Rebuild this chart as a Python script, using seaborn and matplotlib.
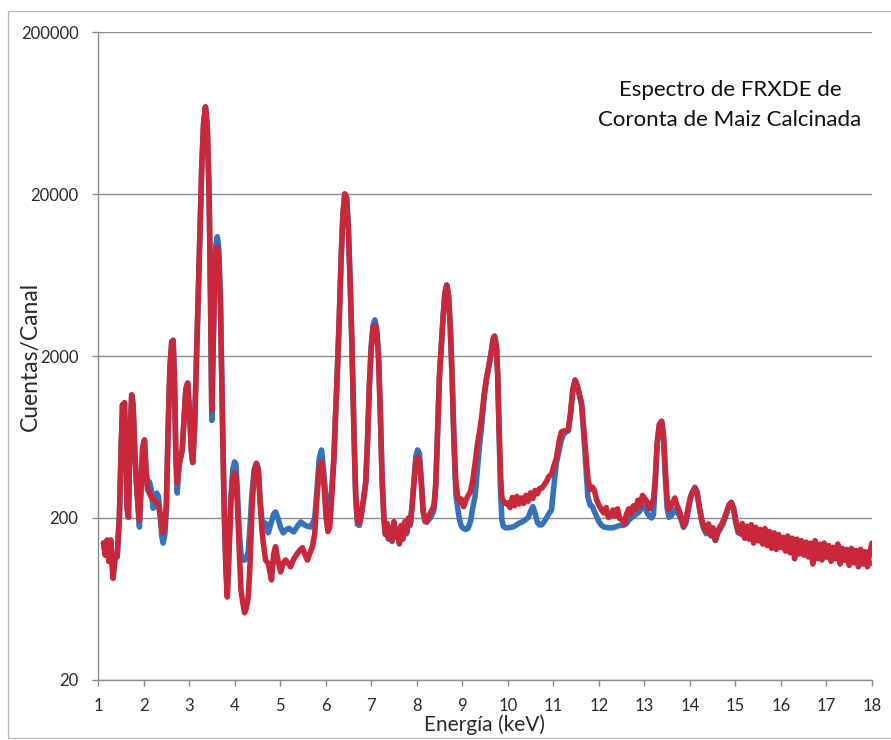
import numpy as np
import pandas as pd
import seaborn as sns
import matplotlib
matplotlib.use("Agg")
import matplotlib.pyplot as plt
from matplotlib.patches import Rectangle
from matplotlib.ticker import NullLocator

# Energy channels (keV) shared by both spectra
energia = [
    1.12, 1.16, 1.20, 1.24, 1.28, 1.33, 1.38, 1.42, 1.47, 1.51,
    1.54, 1.56, 1.58, 1.61, 1.64, 1.67, 1.70, 1.74, 1.77, 1.81,
    1.85, 1.88, 1.91, 1.95, 1.98, 2.02, 2.05, 2.09, 2.13, 2.17,
    2.21, 2.25, 2.29, 2.33, 2.37, 2.40, 2.43, 2.47, 2.50, 2.54,
    2.58, 2.62, 2.65, 2.68, 2.71, 2.74, 2.78, 2.82, 2.85, 2.89,
    2.93, 2.97, 3.01, 3.05, 3.08, 3.12, 3.16, 3.20, 3.24, 3.28,
    3.32, 3.36, 3.40, 3.44, 3.47, 3.50, 3.53, 3.56, 3.59, 3.62,
    3.65, 3.69, 3.73, 3.77, 3.81, 3.84, 3.88, 3.92, 3.96, 4.00,
    4.03, 4.06, 4.10, 4.14, 4.18, 4.22, 4.26, 4.30, 4.34, 4.38,
    4.43, 4.48, 4.52, 4.56, 4.60, 4.63, 4.68, 4.74, 4.81, 4.86,
    4.90, 4.95, 5.01, 5.07, 5.12, 5.19, 5.23, 5.30, 5.38, 5.45,
    5.49, 5.55, 5.60, 5.67, 5.71, 5.76, 5.81, 5.86, 5.91, 5.96,
    6.01, 6.05, 6.09, 6.13, 6.18, 6.22, 6.26, 6.30, 6.34, 6.38,
    6.42, 6.46, 6.50, 6.54, 6.58, 6.62, 6.66, 6.70, 6.74, 6.78,
    6.83, 6.88, 6.92, 6.96, 7.00, 7.04, 7.08, 7.12, 7.16, 7.20,
    7.24, 7.28, 7.31, 7.35, 7.38, 7.42, 7.46, 7.50, 7.54, 7.58,
    7.62, 7.66, 7.70, 7.74, 7.78, 7.82, 7.86, 7.90, 7.94, 7.98,
    8.02, 8.06, 8.10, 8.14, 8.18, 8.22, 8.26, 8.30, 8.34, 8.38,
    8.42, 8.46, 8.50, 8.54, 8.58, 8.62, 8.66, 8.70, 8.74, 8.78,
    8.82, 8.86, 8.90, 8.94, 8.98, 9.03, 9.08, 9.13, 9.18, 9.23,
    9.28, 9.33, 9.38, 9.43, 9.48, 9.53, 9.58, 9.63, 9.68, 9.71,
    9.75, 9.78, 9.81, 9.84, 9.87, 9.90, 9.95, 10.00, 10.05, 10.10,
    10.15, 10.20, 10.25, 10.30, 10.35, 10.40, 10.45, 10.50, 10.55, 10.60,
    10.65, 10.70, 10.75, 10.80, 10.85, 10.90, 10.96, 11.02, 11.07, 11.13,
    11.18, 11.23, 11.28, 11.33, 11.38, 11.43, 11.48, 11.53, 11.58, 11.62,
    11.67, 11.72, 11.76, 11.81, 11.86, 11.90, 11.95, 12.00, 12.06, 12.11,
    12.16, 12.21, 12.26, 12.31, 12.36, 12.41, 12.46, 12.51, 12.56, 12.61,
    12.66, 12.71, 12.76, 12.81, 12.86, 12.91, 12.96, 13.01, 13.06, 13.11,
    13.16, 13.20, 13.24, 13.28, 13.33, 13.38, 13.42, 13.46, 13.50, 13.54,
    13.58, 13.63, 13.67, 13.71, 13.76, 13.81, 13.86, 13.91, 13.96, 14.01,
    14.06, 14.11, 14.16, 14.21, 14.26, 14.31, 14.36, 14.41, 14.46, 14.51,
    14.56, 14.61, 14.66, 14.71, 14.76, 14.81, 14.86, 14.91, 14.96, 15.01,
    15.06, 15.11, 15.15, 15.20, 15.25, 15.30, 15.35, 15.40, 15.45, 15.50,
    15.55, 15.60, 15.65, 15.70, 15.75, 15.80, 15.85, 15.90, 15.95, 16.00,
    16.05, 16.10, 16.15, 16.20, 16.25, 16.30, 16.35, 16.40, 16.45, 16.50,
    16.55, 16.60, 16.65, 16.70, 16.75, 16.80, 16.85, 16.90, 16.95, 17.00,
    17.05, 17.10, 17.15, 17.20, 17.25, 17.30, 17.35, 17.40, 17.45, 17.50,
    17.55, 17.60, 17.65, 17.70, 17.75, 17.80, 17.85, 17.90, 17.95, 18.00,
]

# Counts per channel, first measurement (blue trace)
cuentas_azul = [
    140, 118, 146, 108, 146, 85, 118, 115, 205, 560,
    1000, 700, 1030, 560, 230, 202, 600, 1150, 1000, 500,
    310, 230, 176, 320, 540, 606, 420, 300, 334, 300,
    230, 235, 285, 270, 200, 155, 140, 160, 220, 700,
    1700, 2450, 2500, 1400, 460, 285, 420, 480, 530, 820,
    1250, 1360, 900, 520, 440, 700, 1800, 4500, 12000, 30000,
    55000, 69000, 52000, 20000, 5000, 800, 2300, 6300, 9800, 10900,
    9400, 4400, 950, 240, 100, 68, 135, 270, 400, 444,
    430, 300, 170, 120, 110, 110, 112, 125, 180, 280,
    400, 435, 400, 265, 195, 175, 186, 162, 190, 212,
    218, 200, 175, 162, 168, 173, 170, 164, 178, 189,
    186, 180, 178, 176, 185, 200, 300, 470, 526, 380,
    260, 247, 250, 290, 470, 900, 1700, 3500, 8000, 15000,
    20000, 19000, 12000, 5500, 2200, 700, 270, 182, 180, 205,
    255, 330, 600, 1300, 2300, 3100, 3340, 3000, 2100, 920,
    340, 195, 158, 180, 148, 170, 143, 185, 152, 165,
    138, 175, 148, 185, 160, 195, 180, 240, 340, 480,
    526, 500, 350, 225, 190, 188, 195, 200, 210, 225,
    320, 700, 1500, 2300, 3500, 4900, 5480, 4700, 2900, 1400,
    550, 280, 230, 195, 178, 172, 170, 173, 190, 230,
    270, 390, 560, 760, 1100, 1420, 1700, 2050, 2550, 2650,
    2300, 1500, 650, 300, 195, 178, 174, 174, 175, 176,
    178, 182, 186, 188, 192, 196, 202, 220, 235, 215,
    188, 181, 182, 190, 200, 212, 224, 330, 440, 526,
    610, 660, 680, 690, 880, 1230, 1420, 1300, 1130, 1000,
    650, 400, 270, 240, 235, 220, 205, 190, 180, 176,
    175, 174, 174, 174, 176, 178, 180, 180, 181, 185,
    195, 200, 205, 210, 215, 222, 240, 238, 215, 205,
    200, 210, 330, 560, 750, 790, 640, 360, 230, 202,
    205, 215, 225, 220, 210, 195, 175, 185, 220, 260,
    288, 310, 290, 230, 190, 170, 160, 170, 155, 160,
    145, 160, 170, 180, 195, 215, 238, 245, 225, 185,
    162, 160, 158, 156, 154, 152, 150, 148, 147, 145,
    144, 142, 141, 139, 138, 136, 135, 134, 133, 132,
    131, 130, 129, 128, 127, 126, 125, 124, 123, 122,
    122, 121, 120, 119, 119, 118, 117, 117, 116, 115,
    115, 114, 113, 113, 112, 111, 111, 110, 110, 109,
    109, 108, 108, 107, 107, 106, 106, 105, 105, 105,
]

# Counts per channel, second measurement (red trace)
cuentas_roja = [
    140, 118, 146, 108, 146, 85, 118, 115, 205, 560,
    1000, 700, 1030, 560, 230, 202, 600, 1150, 1000, 500,
    310, 240, 194, 330, 540, 606, 420, 300, 285, 270,
    262, 255, 250, 240, 205, 175, 162, 180, 240, 700,
    1700, 2450, 2500, 1400, 500, 330, 430, 480, 530, 820,
    1250, 1360, 900, 520, 440, 700, 1800, 4500, 12000, 30000,
    55000, 69000, 52000, 20000, 5000, 930, 2400, 5800, 8600, 9400,
    8300, 4000, 900, 230, 95, 65, 130, 250, 350, 380,
    360, 250, 130, 72, 60, 52, 56, 65, 105, 220,
    380, 435, 400, 250, 170, 140, 110, 105, 83, 120,
    133, 110, 93, 105, 110, 104, 100, 112, 121, 128,
    131, 118, 110, 125, 133, 160, 270, 400, 444, 330,
    200, 165, 175, 260, 450, 900, 1700, 3500, 8000, 15000,
    20000, 19000, 12000, 5500, 2200, 700, 280, 190, 186, 210,
    260, 330, 600, 1300, 2200, 2900, 3100, 2800, 2000, 900,
    350, 200, 160, 185, 150, 175, 145, 190, 155, 170,
    140, 180, 150, 190, 165, 200, 185, 240, 330, 440,
    475, 450, 330, 220, 195, 190, 205, 215, 225, 240,
    330, 700, 1500, 2300, 3500, 4900, 5480, 4700, 2900, 1400,
    600, 330, 270, 250, 262, 235, 258, 275, 290, 340,
    430, 560, 680, 850, 1150, 1450, 1700, 2050, 2550, 2650,
    2300, 1500, 700, 380, 270, 255, 245, 248, 232, 268,
    238, 272, 244, 266, 246, 276, 254, 286, 264, 296,
    282, 304, 306, 320, 336, 360, 372, 425, 470, 600,
    680, 690, 690, 700, 900, 1250, 1420, 1300, 1130, 1030,
    700, 480, 350, 300, 310, 298, 260, 240, 224, 215,
    232, 202, 204, 224, 206, 228, 198, 196, 184, 212,
    228, 212, 238, 226, 258, 236, 276, 264, 252, 228,
    244, 260, 350, 580, 760, 790, 650, 400, 262, 225,
    236, 252, 266, 242, 224, 202, 178, 190, 230, 268,
    292, 305, 282, 232, 196, 176, 166, 184, 158, 174,
    146, 166, 176, 186, 200, 220, 242, 250, 232, 192,
    168, 160, 185, 150, 178, 148, 182, 140, 175, 145,
    170, 138, 172, 135, 165, 130, 162, 128, 158, 132,
    152, 125, 155, 122, 150, 112, 148, 120, 145, 118,
    142, 115, 140, 104, 145, 112, 138, 110, 140, 115,
    135, 108, 132, 112, 138, 104, 130, 110, 128, 102,
    130, 106, 126, 100, 128, 104, 124, 100, 122, 140,
]

marcas_y = [20, 200, 2000, 20000, 200000]
marcas_x = list(range(1, 19))
titulo = "Espectro de FRXDE de\nCoronta de Maiz Calcinada"

assert len(energia) == len(cuentas_azul) == len(cuentas_roja)

tabla = pd.concat([
    pd.DataFrame({"Energía": energia, "Cuentas": cuentas_azul, "serie": "azul"}),
    pd.DataFrame({"Energía": energia, "Cuentas": cuentas_roja, "serie": "roja"}),
], ignore_index=True)

sns.set_style("white")
plt.rcParams["font.family"] = ["Lato", "DejaVu Sans"]

W, H = 891, 740
fig = plt.figure(figsize=(W / 100, H / 100), dpi=100)
ax = fig.add_axes([98 / W, 1 - 680 / H, (872 - 98) / W, (680 - 32) / H])

sns.lineplot(
    data=tabla, x="Energía", y="Cuentas", hue="serie",
    hue_order=["azul", "roja"],
    palette={"azul": "#3572B9", "roja": "#C9283B"},
    estimator=None, sort=False, legend=False, linewidth=4.0, ax=ax,
)
for ln in ax.get_lines():
    ln.set_solid_joinstyle("round")
    ln.set_solid_capstyle("round")

ax.set_yscale("log")
ax.set_ylim(20, 200000)
ax.set_xlim(1, 18)
ax.set_yticks(marcas_y)
ax.set_yticklabels([str(v) for v in marcas_y])
ax.yaxis.set_minor_locator(NullLocator())
ax.set_xticks(marcas_x)
ax.set_xticklabels([str(v) for v in marcas_x])

ax.grid(axis="y", color="#8c8c8c", linewidth=1.0)
ax.grid(axis="x", visible=False)
ax.set_axisbelow(True)
for side in ("top", "right"):
    ax.spines[side].set_visible(False)
for side in ("left", "bottom"):
    ax.spines[side].set_color("#8c8c8c")
    ax.spines[side].set_linewidth(1.0)

ax.tick_params(axis="both", which="major", direction="out", length=4,
               width=1.0, color="#8c8c8c", labelsize=12, labelcolor="#2a2a2a")
ax.tick_params(axis="y", pad=10)
ax.tick_params(axis="x", pad=9)
ax.tick_params(left=True, bottom=True)

ax.set_xlabel("Energía (keV)", fontsize=15, color="#2a2a2a", labelpad=0)
ax.set_ylabel("Cuentas/Canal", fontsize=16.5, color="#2a2a2a")
ax.yaxis.label.set_va("center")
ax.yaxis.set_label_coords((30 - 98) / (872 - 98), 0.5)

fig.text(730 / W, 1 - 105 / H, titulo, ha="center", va="center",
         fontsize=16, color="#111111", linespacing=1.6)

# Thin frame around the chart area
fig.add_artist(Rectangle((8 / W, 2 / H), 1.2, (738 - 11) / H,
                         transform=fig.transFigure, fill=False,
                         edgecolor="#b5b5b5", linewidth=0.9))

fig.savefig("out.png", dpi=100, facecolor="white")
